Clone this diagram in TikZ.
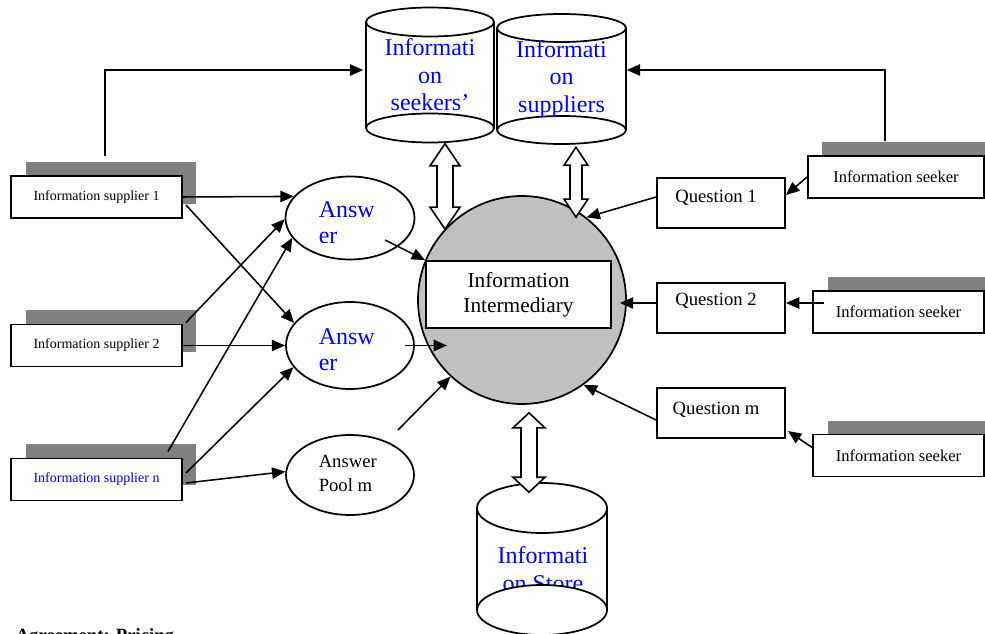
\documentclass[tikz,border=0pt]{standalone}
\usepackage{fontspec}
\setmainfont{Liberation Serif}
\usetikzlibrary{arrows.meta,calc,shapes.geometric}
\definecolor{shadowgray}{RGB}{128,128,128}
\definecolor{circgray}{RGB}{192,192,192}
\definecolor{txtblue}{RGB}{0,0,255}
\newcommand\hollowarrow[5]{%
 \draw[line width=1.2pt,fill=white] let \p1=#1, \p2=#2 in
 (\x1,\y1) -- (\x1+#4*0.75pt,\y1-#5*0.75pt) -- (\x1+#3*0.75pt,\y1-#5*0.75pt)
 -- (\x1+#3*0.75pt,\y2+#5*0.75pt) -- (\x1+#4*0.75pt,\y2+#5*0.75pt) -- (\x1,\y2)
 -- (\x1-#4*0.75pt,\y2+#5*0.75pt) -- (\x1-#3*0.75pt,\y2+#5*0.75pt)
 -- (\x1-#3*0.75pt,\y1-#5*0.75pt) -- (\x1-#4*0.75pt,\y1-#5*0.75pt) -- cycle;}
\newcommand\cylbody[5]{% cx, rx, ytop, ybot, ry
 \fill[white] (#1-#2,#3) rectangle (#1+#2,#4);
 \draw[line width=1.3pt] (#1-#2,#3) -- (#1-#2,#4) (#1+#2,#3) -- (#1+#2,#4);
 \draw[line width=1.3pt,fill=white] (#1,#3) ellipse [x radius=#2, y radius=#5];}
\newcommand\cylbottom[4]{% cx, rx, ybot, ry
 \draw[line width=1.3pt,fill=white] (#1,#3) ellipse [x radius=#2, y radius=#4];}
\begin{document}
\begin{tikzpicture}[x=0.75pt,y=-0.75pt,line width=1.15pt,
  arr/.style={-{Triangle[length=10pt,width=8.5pt]}},
  sbox/.style={draw,line width=1.4pt,fill=white,inner sep=0pt,minimum width=128.25pt,minimum height=31.5pt,font=\fontsize{10.5}{12}\selectfont},
  kbox/.style={draw,line width=1.4pt,fill=white,inner sep=0pt,minimum height=31.5pt,font=\fontsize{12.4}{14}\selectfont},
  qbox/.style={draw,line width=1.4pt,fill=white,inner sep=0pt,minimum width=96pt,minimum height=37.5pt},
  qtext/.style={font=\fontsize{14}{16}\selectfont,inner sep=0pt},
  ans/.style={ellipse,draw,line width=1.3pt,fill=white,inner sep=0pt},
  bluetext/.style={text=txtblue,font=\fontsize{18}{19.5}\selectfont,align=left,inner sep=0pt},
  cyltext/.style={text=txtblue,font=\fontsize{18}{20.5}\selectfont,align=center,inner sep=0pt},
  shadow/.style={fill=shadowgray,draw=none}]
\useasboundingbox (0,0) rectangle (985,634);
\clip (0,0) rectangle (985,634);

% shadows
\fill[shadow] (26,162) rectangle (196,204);
\fill[shadow] (26,310) rectangle (196,352);
\fill[shadow] (26,444) rectangle (196,485);
\fill[shadow] (822,142) rectangle (985,183);
\fill[shadow] (828,277) rectangle (985,318);
\fill[shadow] (828,421) rectangle (985,462);

% supplier boxes
\node[sbox] (s1) at (96.5,197) {Information supplier 1};
\node[sbox] (s2) at (96.5,345.5) {Information supplier 2};
\node[sbox,text=txtblue] (sn) at (96.5,479.5) {Information supplier n};

% seeker boxes
\node[kbox,minimum width=132pt] (k1) at (896,177) {Information seeker};
\node[kbox,minimum width=128.25pt] (k2) at (898.5,312) {Information seeker};
\node[kbox,minimum width=128.25pt] (k3) at (898.5,455.5) {Information seeker};

% question boxes
\node[qbox] (q1) at (721,203) {};
\node[qbox] (q2) at (721,308) {};
\node[qbox] (q3) at (721,413) {};
\node[qtext] (q1t) at ($(q1.center)+(-5,-5)$) {Question 1};
\node[qtext] (q2t) at ($(q2.center)+(-5,-7)$) {Question 2};
\node[qtext] (q3t) at ($(q3.center)+(-5,-3)$) {Question m};

% answer ellipses
\node[ans,minimum width=96.75pt,minimum height=62.25pt] (a1) at (350,218) {};
\node[ans,minimum width=96pt,minimum height=65.25pt] (a2) at (350,345.5) {};
\node[ans,minimum width=96pt,minimum height=60pt] (pool) at (350,475) {};
\begin{scope}
\clip (300,185) rectangle (400,243);
\node[bluetext,anchor=west] (a1t) at (318,223) {Answ\\er};
\end{scope}
\node[bluetext,anchor=west] (a2t) at (318,350) {Answ\\er};
\node[font=\fontsize{14}{18}\selectfont,align=left,inner sep=0pt,anchor=west] (poolt) at (318,473) {Answer\\Pool m};

% central circle
\node[circle,draw,line width=1.3pt,fill=circgray,minimum size=156pt,inner sep=0pt] (circ) at (522,300) {};
\node[draw,line width=1.4pt,fill=white,minimum width=138.75pt,minimum height=50.25pt,inner sep=0pt,align=center,font=\fontsize{16}{18.75}\selectfont] (im) at (518.5,294.5) {Information\\Intermediary};

% cylinders
\cylbody{430}{64}{22}{128}{14.5}
\cylbottom{430}{64}{128}{14.5}
\node[cyltext,minimum width=96pt,minimum height=100.5pt] (c1) at (430,75) {Informati\\on\\seekers’};
\cylbody{561.5}{64.5}{28}{130}{14}
\cylbottom{561.5}{64.5}{130}{14}
\node[cyltext,minimum width=96.75pt,minimum height=99.75pt] (c2) at (561.5,79) {Informati\\on\\suppliers};
\cylbody{542}{65}{508}{610}{25}
\node[minimum width=97.5pt,minimum height=114pt,inner sep=0pt] (c3) at (542,559) {};
\node[cyltext,anchor=north] (c3t) at ($(c3.north)+(1,64)$) {Informati\\on Store};
\cylbottom{542}{65}{610}{25}

% hollow double arrows
\hollowarrow{($(c1.south)+(15,1)$)}{($(circ.north)+(-77,34)$)}{8}{15}{22}
\hollowarrow{($(c2.south)+(14.5,1)$)}{($(circ.north)+(54,22)$)}{6}{12}{18}
\hollowarrow{($(circ.south)+(7,8)$)}{($(c3.north)+(-13,10)$)}{8}{16}{15}

% connectors
\draw[arr] ($(s1.north)+(8.5,-19)$) |- ($(c1.west)+(-2,-5)$);
\draw[arr] ($(k1.north)+(-11,-14)$) |- ($(c2.east)+(0,-9)$);
\draw[arr] (s1.east) -- (a1.159);
\draw[arr] ($(s1.east)+(3,8)$) -- (a2.158);
\draw[arr] ($(s2.north east)+(3,-1)$) -- (a1.181);
\draw[arr] (s2.east) -- (a2.west);
\draw[arr] ($(sn.north east)+(-15,-6)$) -- (a1.199);
\draw[arr] ($(sn.east)+(3,-6.5)$) -- (a2.201);
\draw[arr] ($(sn.east)+(3,3.5)$) -- (pool.177);
\draw[arr] ($(a1.center)+(35,22)$) -- (im.north west);
\draw[arr] ($(a2.center)+(55,0)$) -- ($(circ.center)+(-75,45.5)$);
\draw[arr] ($(pool.center)+(48,-45)$) -- (circ.227);
\draw[arr] ($(q1.west)+(0,-6)$) -- (circ.52);
\draw[arr] ($(q2.west)+(0,-5)$) -- ($(circ.east)+(-7,3)$);
\draw[arr] ($(q3.west)+(0,7)$) -- (circ.-54);
\draw[arr] (k1.west) -- ($(q1.east)+(0,-8)$);
\draw[arr] ($(k2.west)+(12,-9)$) -- ($(q2.east)+(0,-5)$);
\draw[arr] ($(k3.west)+(0,-8)$) -- ($(q3.east)+(2,18)$);

% bottom heading, cut by the lower edge as in the reference
\node[font=\bfseries\fontsize{14}{16}\selectfont,anchor=base west,inner sep=0pt] (agr) at (15,641) {Agreement: Pricing};
\end{tikzpicture}
\end{document}
